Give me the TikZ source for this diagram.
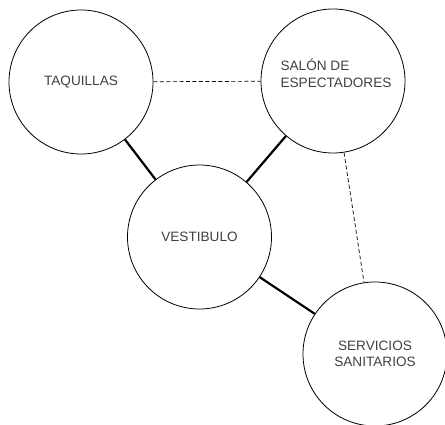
\documentclass[tikz,border=0pt]{standalone}
\usepackage{fontspec}
\setmainfont{Liberation Sans}
\usepackage{tikz}

\begin{document}
\begin{tikzpicture}[
    x=1pt, y=-1pt,
    room/.style={circle, draw=black, line width=0.8pt, minimum size=144pt, inner sep=0pt, align=center, text=black!75, font=\fontsize{13.6}{16.5}\selectfont},
    direct/.style={line width=2.2pt, black},
    indirect/.style={line width=0.7pt, black, dash pattern=on 4pt off 2.5pt}
]
\useasboundingbox (0,0) rectangle (445,425);

\node[room] (T) at (81,82) {TAQUILLAS};
\node[room, align=left, text depth=16pt] (S) at (333,81) {\hspace*{6pt}SALÓN DE\\\hspace*{6pt}ESPECTADORES};
\node[room] (V) at (199.5,237) {VESTIBULO};
\node[room] (W) at (375,354) {SERVICIOS\\SANITARIOS};

\draw[direct] (T) -- (V);
\draw[direct] (S) -- (V);
\draw[direct] (V) -- (W);

\draw[indirect] (T) -- (S);
\draw[indirect] (S) -- (W);
\end{tikzpicture}
\end{document}
